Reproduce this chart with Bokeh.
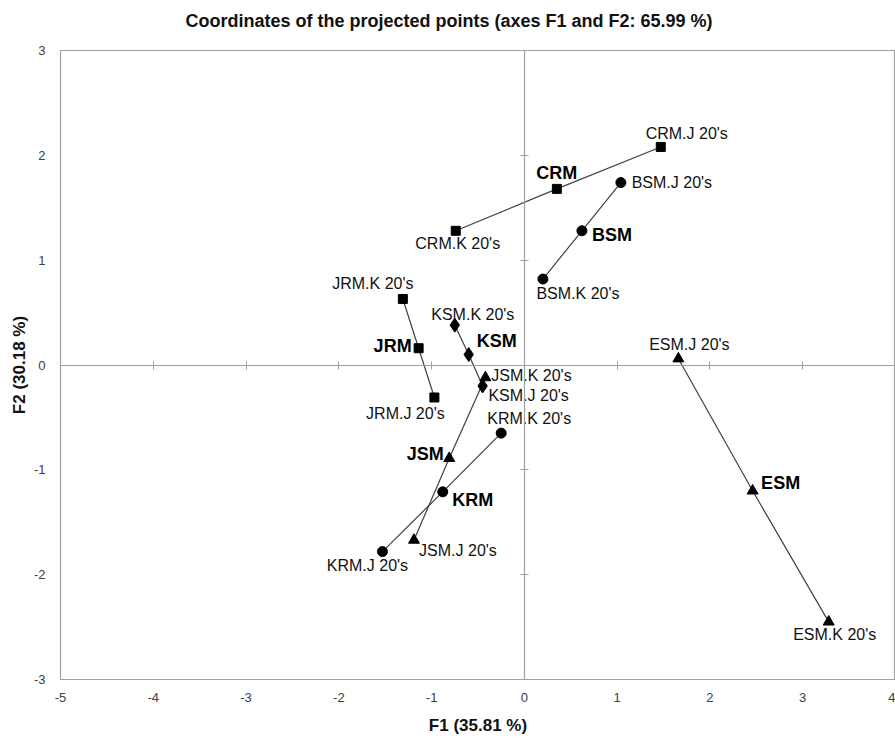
from bokeh.plotting import figure
from bokeh.models import LinearAxis, FixedTicker, Range1d, ColumnDataSource
from bokeh.embed import file_html
from bokeh.resources import INLINE
from bokeh.core.properties import value

# ---------------- data ----------------
group_names = ["CRM", "BSM", "JRM", "KSM", "JSM", "KRM", "ESM"]
# K 20's points
f1_k = [-0.74, 0.20, -1.31, -0.75, -0.42, -0.25, 3.28]
f2_k = [1.28, 0.82, 0.63, 0.38, -0.12, -0.65, -2.45]
# group (mean) points
f1_m = [0.35, 0.62, -1.14, -0.60, -0.81, -0.88, 2.46]
f2_m = [1.68, 1.28, 0.16, 0.10, -0.89, -1.21, -1.20]
# J 20's points
f1_j = [1.47, 1.04, -0.97, -0.45, -1.19, -1.53, 1.66]
f2_j = [2.08, 1.74, -0.31, -0.20, -1.67, -1.78, 0.06]

x_ticks = [-5, -4, -3, -2, -1, 0, 1, 2, 3, 4]
x_tick_labels = ["-5", "-4", "-3", "-2", "-1", "0", "1", "2", "3", "4"]
y_ticks = [-3, -2, -1, 0, 1, 2, 3]
y_tick_labels = ["-3", "-2", "-1", "0", "1", "2", "3"]

title_text = "Coordinates of the projected points (axes F1 and F2: 65.99 %)"
x_label = "F1 (35.81 %)"
y_label = "F2 (30.18 %)"

# ---------------- styles / layout ----------------
marker_of = {"CRM": "square", "BSM": "circle", "JRM": "square", "KSM": "diamond",
             "JSM": "triangle", "KRM": "circle", "ESM": "triangle"}
size_of = {"square": 9, "circle": 10, "diamond": 14, "triangle": 11}
# label offsets in px (dx, dy) for K, mean, J
off_k = {"CRM": (2, 13), "BSM": (35, 14), "JRM": (-30, -15), "KSM": (18, -11),
         "JSM": (46, -2), "KRM": (28, -15), "ESM": (6, 13)}
off_m = {"CRM": (0, -16), "BSM": (30, 4), "JRM": (-26, -2), "KSM": (28, -14),
         "JSM": (-24, -4), "KRM": (30, 8), "ESM": (28, -8)}
off_j = {"CRM": (26, -13), "BSM": (51, 0), "JRM": (-29, 16), "KSM": (46, 10),
         "JSM": (44, 10), "KRM": (-15, 14), "ESM": (11, -14)}

FONT = "Liberation Sans"
GRAY = "#a0a0a0"

p = figure(width=895, height=738,
           x_range=Range1d(x_ticks[0], x_ticks[-1]),
           y_range=Range1d(y_ticks[0], y_ticks[-1]),
           output_backend="svg", toolbar_location=None,
           min_border_left=60, min_border_right=0,
           min_border_top=50, min_border_bottom=59)
p.grid.visible = False
p.background_fill_color = "white"
p.border_fill_color = "white"
p.outline_line_color = GRAY
p.outline_line_width = 1.2

# title (trailing newline lifts the line inside the top border)
p.title.text = title_text + "\n"
p.title.align = "left"
p.title.offset = 125
p.title.standoff = 0
p.title.text_font = FONT
p.title.text_font_size = "18px"
p.title.text_font_style = "bold"
p.title.text_color = "#111111"

# main axes (labels only)
for ax, ticks, labels in ((p.below[0], x_ticks, x_tick_labels), (p.left[0], y_ticks, y_tick_labels)):
    ax.ticker = FixedTicker(ticks=ticks)
    ax.major_label_overrides = {t: l for t, l in zip(ticks, labels)}
    ax.axis_line_color = None
    ax.major_tick_line_color = None
    ax.minor_tick_line_color = None
    ax.major_tick_in = 0
    ax.major_tick_out = 0
    ax.major_label_text_font = FONT
    ax.major_label_text_font_size = "13px"
    ax.major_label_text_color = "#404040"
    ax.axis_label_text_font = FONT
    ax.axis_label_text_font_size = "17px"
    ax.axis_label_text_font_style = "bold"
    ax.axis_label_text_color = "#111111"

p.below[0].axis_label = x_label
p.below[0].major_label_standoff = 13
p.below[0].axis_label_standoff = 11
p.left[0].axis_label = y_label
p.left[0].major_label_standoff = 15
p.left[0].axis_label_standoff = 2
p.left[0].major_label_orientation = "horizontal"

# axes crossing at the origin
for side, ticks in (("left", y_ticks), ("below", x_ticks)):
    cax = LinearAxis(fixed_location=0, ticker=FixedTicker(ticks=ticks),
                     axis_line_color=GRAY, axis_line_width=1.2,
                     major_tick_line_color=GRAY, major_tick_in=4, major_tick_out=4,
                     minor_tick_line_color=None,
                     major_label_text_color=None, major_label_standoff=0)
    p.add_layout(cax, side)

# connecting lines
xs = [[a, b, c] for a, b, c in zip(f1_k, f1_m, f1_j)]
ys = [[a, b, c] for a, b, c in zip(f2_k, f2_m, f2_j)]
p.multi_line(xs, ys, line_color="#404040", line_width=1.2)

# markers
for shape in ("square", "circle", "diamond", "triangle"):
    gx, gy = [], []
    for i, g in enumerate(group_names):
        if marker_of[g] == shape:
            gx += [f1_k[i], f1_m[i], f1_j[i]]
            gy += [f2_k[i], f2_m[i], f2_j[i]]
    p.scatter(gx, gy, marker=shape, size=size_of[shape],
              fill_color="black", line_color="black")

# labels
small = dict(x=[], y=[], text=[], dx=[], dy=[])
big = dict(x=[], y=[], text=[], dx=[], dy=[])
for i, g in enumerate(group_names):
    for xv, yv, t, off, d in ((f1_k[i], f2_k[i], g + ".K 20's", off_k[g], small),
                              (f1_j[i], f2_j[i], g + ".J 20's", off_j[g], small),
                              (f1_m[i], f2_m[i], g, off_m[g], big)):
        d["x"].append(xv); d["y"].append(yv); d["text"].append(t)
        d["dx"].append(off[0]); d["dy"].append(off[1])

p.text(x="x", y="y", text="text", x_offset="dx", y_offset="dy",
       source=ColumnDataSource(small), text_font=value(FONT), text_font_size="16px",
       text_align="center", text_baseline="middle", text_color="#111111")
p.text(x="x", y="y", text="text", x_offset="dx", y_offset="dy",
       source=ColumnDataSource(big), text_font=value(FONT), text_font_size="18px",
       text_font_style="bold", text_align="center", text_baseline="middle",
       text_color="#000000")

open("out.html", "w").write(file_html(p, INLINE))
